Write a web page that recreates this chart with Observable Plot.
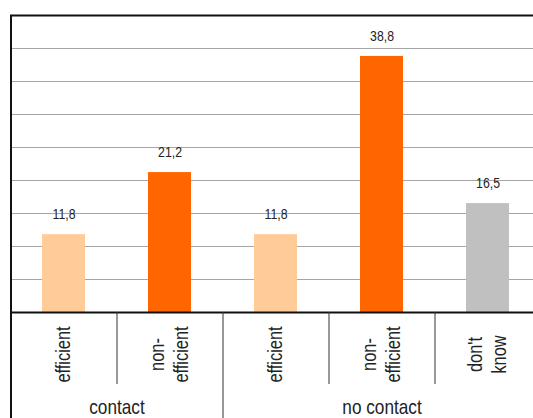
<!DOCTYPE html>
<html><head><meta charset="utf-8">
<script src="https://cdn.jsdelivr.net/npm/d3@7"></script>
<script src="https://cdn.jsdelivr.net/npm/@observablehq/plot@0.6"></script>
<style>html,body{margin:0;padding:0;background:#fff;overflow:hidden}</style>
</head><body><div id="chart"></div>
<script>
const categories = ["contact-efficient","contact-non-efficient","nocontact-efficient","nocontact-non-efficient","dont-know"];
const tickLabels = ["efficient","non-\nefficient","efficient","non-\nefficient","don't\nknow"];
const groups = ["contact","contact","no contact","no contact","no contact"];
const kinds = ["efficient","non-efficient","efficient","non-efficient","don't know"];
const values = [11.8, 21.2, 11.8, 38.8, 16.5];
const gridTicks = [5, 10, 15, 20, 25, 30, 35, 40];
const yMax = 45;

const kindDomain = ["efficient","non-efficient","don't know"];
const kindColors = ["#FFCC99","#FF6600","#C0C0C0"];

const W = 533, H = 418, ML = 10, MT = 15, MB = 106;
const step = 106;
const plotH = H - MT - MB;
const shortDrop = 72;
const narrow = 0.82;

const rows = categories.map((c, i) => ({cat: c, label: tickLabels[i], group: groups[i], kind: kinds[i], value: values[i]}));
const n = categories.length;
const leftEdges = categories.map((c, i) => ({cat: c, long: i === 0 || groups[i] !== groups[i - 1], first: i === 0}));
const groupRows = [];
groups.forEach((g, i) => {
  const last = groupRows[groupRows.length - 1];
  if (last && last.group === g) last.count++;
  else groupRows.push({group: g, cat: categories[i], count: 1});
});
const fmt = v => v.toFixed(1).replace(".", ",");
const font = "'Liberation Sans',Arial,sans-serif";
const ink = "#222";

const marks = [
  Plot.ruleY(gridTicks, {stroke: "#a6a6a6", strokeWidth: 1}),
  Plot.barY(rows, {x: "cat", y: "value", fill: "kind"}),
  Plot.ruleY([yMax], {stroke: "#111", strokeWidth: 2}),
  Plot.ruleY([0], {stroke: "#111", strokeWidth: 2}),
  // left frame border
  Plot.ruleX(leftEdges.filter(d => d.first), {x: "cat", dx: -step / 2, stroke: "#111", strokeWidth: 2, insetBottom: -MB}),
  // long group dividers below axis
  Plot.ruleX(leftEdges.filter(d => d.long && !d.first), {x: "cat", dx: -step / 2, stroke: "#333", strokeWidth: 1, insetTop: plotH, insetBottom: -MB}),
  // short category dividers
  Plot.ruleX(leftEdges.filter(d => !d.long), {x: "cat", dx: -step / 2, stroke: "#333", strokeWidth: 1, insetTop: plotH, insetBottom: -shortDrop}),
  // value labels
  Plot.text(rows, {x: "cat", y: "value", text: d => fmt(d.value), dy: -20, fontSize: 15, fill: ink}),
  // rotated category labels
  Plot.text(rows, {x: "cat", text: "label", frameAnchor: "bottom", dy: 42, dx: -2, rotate: -90, lineAnchor: "middle", lineHeight: 1.25, textAnchor: "middle", fontSize: 20, fill: ink}),
  // group labels
  ...groupRows.map(g => Plot.text([g], {x: "cat", text: "group", frameAnchor: "bottom", dy: 101, dx: (g.count - 1) * step / 2, fontSize: 21, fill: ink}))
];

const chart = Plot.plot({
  width: W, height: H,
  marginLeft: ML, marginRight: 0, marginTop: MT, marginBottom: MB,
  style: {fontFamily: font, background: "#fff"},
  x: {domain: categories, range: [ML, ML + step * n], paddingInner: 0.595, paddingOuter: 0.2975, axis: null},
  y: {domain: [0, yMax], axis: null},
  color: {domain: kindDomain, range: kindColors},
  marks
});
// emulate a narrow (condensed) typeface by compressing glyphs along the reading direction
d3.select(chart).selectAll("text").each(function () {
  const t = this.getAttribute("transform") || "";
  this.setAttribute("transform", (t + ` scale(${narrow},1)`).trim());
});
document.getElementById("chart").appendChild(chart);
</script>
</body></html>
